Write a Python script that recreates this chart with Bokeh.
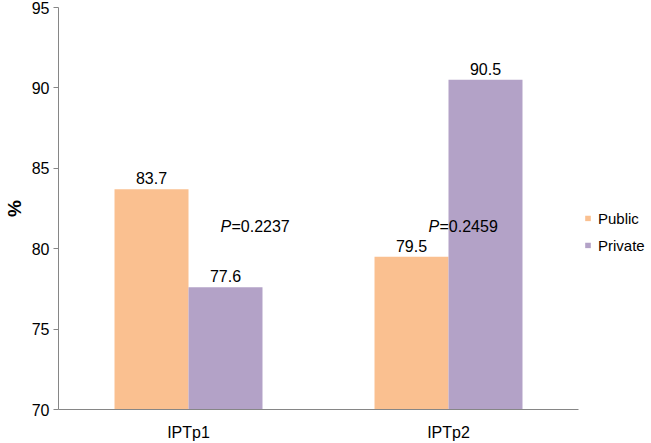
from bokeh.plotting import figure
from bokeh.models import ColumnDataSource, Range1d, FactorRange
from bokeh.transform import dodge
from bokeh.core.properties import value
from bokeh.embed import file_html
from bokeh.resources import INLINE

categories = ["IPTp1", "IPTp2"]
public = [83.7, 79.5]
private = [77.6, 90.5]
p_values = ["0.2237", "0.2459"]
y_ticks = [70, 75, 80, 85, 90, 95]

FONT = "Liberation Sans"
PUB_COLOR = "#FAC090"
PRI_COLOR = "#B3A2C7"
AXIS_COLOR = "#868686"
FS = "16px"

source = ColumnDataSource(dict(
    cats=categories,
    public=public,
    private=private,
    public_lbl=[f"{v:.1f}" for v in public],
    private_lbl=[f"{v:.1f}" for v in private],
))

p = figure(
    x_range=FactorRange(*categories),
    y_range=Range1d(70, 95),
    frame_width=520, height=443,
    min_border_left=58, min_border_right=0,
    min_border_top=7, min_border_bottom=20,
    output_backend="svg", toolbar_location=None,
)

bw = 0.2846
off = bw / 2
p.vbar(x=dodge("cats", -off, range=p.x_range), top="public", bottom=70, width=bw,
       source=source, fill_color=PUB_COLOR, line_color=None, legend_label="Public")
p.vbar(x=dodge("cats", off, range=p.x_range), top="private", bottom=70, width=bw,
       source=source, fill_color=PRI_COLOR, line_color=None, legend_label="Private")

p.text(x=dodge("cats", -off, range=p.x_range), y="public", text="public_lbl", source=source,
       text_align="center", text_baseline="alphabetic", y_offset=-11,
       text_font=value(FONT), text_font_size=FS, text_color="#000000")
p.text(x=dodge("cats", off, range=p.x_range), y="private", text="private_lbl", source=source,
       text_align="center", text_baseline="alphabetic", y_offset=-11,
       text_font=value(FONT), text_font_size=FS, text_color="#000000")

# P-value annotations
p_y = 81.4
p_dx = [0.123, -0.0769]
for cat, pv, dx in zip(categories, p_values, p_dx):
    sub = ColumnDataSource(dict(cats=[cat], y=[p_y], pp=["P"], eq=["=" + pv]))
    p.text(x=dodge("cats", dx, range=p.x_range), y="y", text="pp", source=sub,
           text_align="left", text_baseline="alphabetic",
           text_font=value(FONT), text_font_size=FS, text_font_style="italic",
           text_color="#000000")
    p.text(x=dodge("cats", dx, range=p.x_range), y="y", text="eq", source=sub,
           text_align="left", text_baseline="alphabetic", x_offset=11,
           text_font=value(FONT), text_font_size=FS, text_color="#000000")

p.xgrid.grid_line_color = None
p.ygrid.grid_line_color = None
p.outline_line_color = None
p.background_fill_color = "white"
p.border_fill_color = "white"

p.yaxis.ticker = y_ticks
p.yaxis.axis_label = "%"
p.yaxis.axis_label_text_font = FONT
p.yaxis.axis_label_text_font_size = "19px"
p.yaxis.axis_label_text_font_style = "bold"
p.yaxis.axis_label_text_color = "#000000"
p.yaxis.axis_label_standoff = 4
p.yaxis.major_label_text_font = FONT
p.yaxis.major_label_text_font_size = FS
p.yaxis.major_label_text_color = "#000000"
p.yaxis.major_label_standoff = 4
p.yaxis.major_tick_out = 5
p.yaxis.major_tick_in = 0
p.yaxis.minor_tick_line_color = None
p.yaxis.axis_line_color = AXIS_COLOR
p.yaxis.major_tick_line_color = AXIS_COLOR

p.xaxis.major_label_text_font = FONT
p.xaxis.major_label_text_font_size = FS
p.xaxis.major_label_text_color = "#000000"
p.xaxis.major_label_standoff = 14
p.xaxis.axis_label_standoff = 0
p.xaxis.major_tick_out = 0
p.xaxis.major_tick_in = 0
p.xaxis.major_tick_line_color = None
p.xaxis.minor_tick_line_color = None
p.xaxis.axis_line_color = AXIS_COLOR

leg = p.legend[0]
p.center.remove(leg)
leg.location = "center_left"
leg.padding = 0
leg.margin = 6
leg.border_line_color = None
leg.background_fill_alpha = 0
leg.glyph_width = 7
leg.glyph_height = 7
leg.label_standoff = 7
leg.label_height = 18
leg.spacing = 9
leg.label_text_font = FONT
leg.label_text_font_size = "15px"
leg.label_text_color = "#000000"
leg.title = " "
leg.title_text_font_size = "15px"
leg.title_standoff = 29
p.add_layout(leg, "right")

open("out.html", "w").write(file_html(p, INLINE))
